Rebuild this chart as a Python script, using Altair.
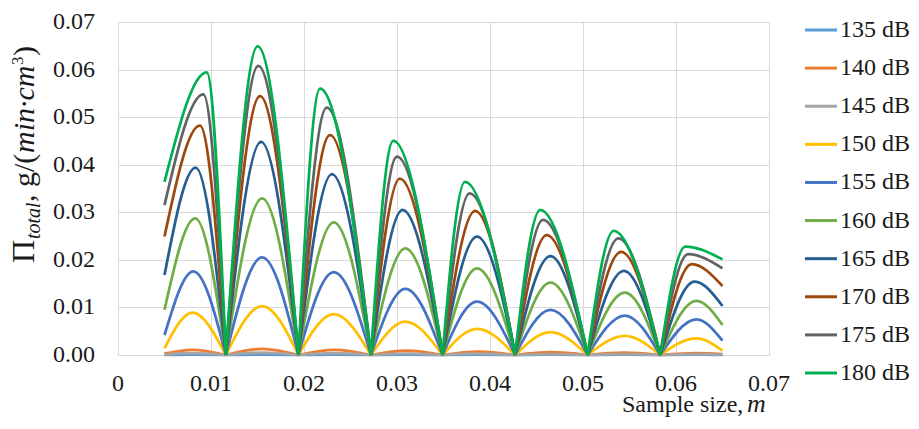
import altair as alt
import pandas as pd

series = ["135 dB", "140 dB", "145 dB", "150 dB", "155 dB",
          "160 dB", "165 dB", "170 dB", "175 dB", "180 dB"]
colors = ["#5B9BD5", "#ED7D31", "#A5A5A5", "#FFC000", "#4472C4",
          "#70AD47", "#255E91", "#9E480E", "#636363", "#00B050"]

x_start = 0.005
x_end = 0.065
# positions where all curves touch zero
zeros = [0.0116, 0.0194, 0.0272, 0.0349, 0.0427, 0.0505, 0.0583]

# value at x_start and at x_end, per series
start_vals = [0.0000, 0.0003, 0.0001, 0.0014, 0.0042, 0.0095, 0.0168, 0.0249, 0.0315, 0.0364]
end_vals = [0.0000, 0.0002, 0.0001, 0.0009, 0.0030, 0.0063, 0.0103, 0.0145, 0.0182, 0.0201]

# x position of each arc's top, per series
peak_x_135 = [0.0080, 0.0155, 0.0233, 0.0310, 0.0388, 0.0466, 0.0544, 0.0622]
peak_x_140 = [0.0080, 0.0155, 0.0233, 0.0310, 0.0388, 0.0466, 0.0544, 0.0622]
peak_x_145 = [0.0080, 0.0155, 0.0233, 0.0310, 0.0388, 0.0466, 0.0544, 0.0622]
peak_x_150 = [0.0080, 0.0155, 0.0232, 0.0309, 0.0386, 0.0465, 0.0545, 0.0622]
peak_x_155 = [0.0081, 0.0155, 0.0232, 0.0309, 0.0386, 0.0465, 0.0545, 0.0622]
peak_x_160 = [0.0083, 0.0155, 0.0232, 0.0309, 0.0386, 0.0465, 0.0545, 0.0622]
peak_x_165 = [0.00835, 0.01538, 0.0230, 0.0306, 0.0386, 0.0465, 0.0544, 0.0620]
peak_x_170 = [0.0088, 0.01527, 0.0228, 0.0303, 0.0384, 0.0461, 0.0541, 0.0617]
peak_x_175 = [0.00917, 0.01509, 0.02244, 0.0300, 0.0378, 0.0457, 0.0538, 0.0613]
peak_x_180 = [0.00954, 0.01502, 0.02172, 0.0296, 0.0373, 0.0454, 0.0533, 0.0610]

# height of each arc's top, per series
peak_y_135 = [0.0001, 0.0001, 0.0001, 0.0001, 0.0001, 0.0001, 0.0001, 0.0001]
peak_y_140 = [0.0011, 0.0013, 0.0011, 0.0009, 0.0007, 0.0006, 0.0005, 0.0004]
peak_y_145 = [0.0004, 0.0005, 0.0004, 0.0003, 0.0003, 0.0002, 0.0002, 0.0002]
peak_y_150 = [0.0089, 0.0103, 0.0086, 0.0070, 0.0055, 0.0048, 0.0040, 0.0035]
peak_y_155 = [0.0176, 0.0205, 0.0174, 0.0139, 0.0112, 0.0095, 0.0083, 0.0075]
peak_y_160 = [0.0287, 0.0329, 0.0279, 0.0224, 0.0182, 0.0152, 0.0131, 0.0114]
peak_y_165 = [0.0394, 0.0448, 0.0380, 0.0305, 0.0249, 0.0208, 0.0177, 0.0154]
peak_y_170 = [0.0482, 0.0544, 0.0462, 0.0371, 0.0303, 0.0252, 0.0217, 0.0191]
peak_y_175 = [0.0548, 0.0608, 0.0520, 0.0417, 0.0340, 0.0284, 0.0245, 0.0212]
peak_y_180 = [0.0594, 0.0649, 0.0560, 0.0450, 0.0364, 0.0305, 0.0261, 0.0228]

peak_x = [peak_x_135, peak_x_140, peak_x_145, peak_x_150, peak_x_155,
          peak_x_160, peak_x_165, peak_x_170, peak_x_175, peak_x_180]
peak_y = [peak_y_135, peak_y_140, peak_y_145, peak_y_150, peak_y_155,
          peak_y_160, peak_y_165, peak_y_170, peak_y_175, peak_y_180]

x_ticks = [0, 0.01, 0.02, 0.03, 0.04, 0.05, 0.06, 0.07]
x_labels = ["0", "0.01", "0.02", "0.03", "0.04", "0.05", "0.06", "0.07"]
y_ticks = [0, 0.01, 0.02, 0.03, 0.04, 0.05, 0.06, 0.07]
y_labels = ["0.00", "0.01", "0.02", "0.03", "0.04", "0.05", "0.06", "0.07"]

rows = []
n_arcs = len(zeros) + 1
for i, s in enumerate(series):
    for k in range(n_arcs):
        left = (x_start, start_vals[i]) if k == 0 else (zeros[k - 1], 0.0)
        right = (zeros[k], 0.0) if k < n_arcs - 1 else (x_end, end_vals[i])
        pts = [left, (peak_x[i][k], peak_y[i][k]), right]
        for o, (xv, yv) in enumerate(pts):
            rows.append({"series": s, "arc": f"{s}-{k}", "o": o, "x": xv, "y": yv})
df = pd.DataFrame(rows)

FONT = "Liberation Serif"
TXT = "#1a1a1a"
GRID = "#D9D9D9"

xscale = alt.Scale(domain=[0, 0.07], nice=False)
yscale = alt.Scale(domain=[0, 0.07], nice=False)
cscale = alt.Scale(domain=series, range=colors)

lines = alt.Chart(df).mark_line(interpolate="monotone", strokeWidth=2.75).encode(
    x=alt.X("x:Q", scale=xscale,
            axis=alt.Axis(values=x_ticks, title=None, grid=True, gridColor=GRID,
                          domainColor=GRID, ticks=False, labels=False)),
    y=alt.Y("y:Q", scale=yscale,
            axis=alt.Axis(values=y_ticks, title=None, grid=True, gridColor=GRID,
                          domainColor=GRID, ticks=False, labels=False)),
    color=alt.Color("series:N", scale=cscale, legend=None),
    detail="arc:N",
    order="o:Q",
)

# tick labels drawn as text through the same scales
x_lab = alt.Chart(pd.DataFrame({"v": x_ticks, "t": x_labels})).mark_text(
    align="center", baseline="alphabetic", font=FONT, fontSize=24,
    fontStyle="normal", fontWeight="normal", color=TXT
).encode(x=alt.X("v:Q", scale=xscale), y=alt.value(369), text="t:N")

y_lab = alt.Chart(pd.DataFrame({"v": y_ticks, "t": y_labels})).mark_text(
    align="right", baseline="middle", font=FONT, fontSize=24,
    fontStyle="normal", fontWeight="normal", color=TXT
).encode(x=alt.value(-23), y=alt.Y("v:Q", scale=yscale, axis=None), text="t:N")

# legend
legend_df = pd.DataFrame({"series": series})
ly = alt.Y("series:N", axis=None,
           scale=alt.Scale(type="point", domain=series, range=[8, 351], padding=0))
leg_rules = alt.Chart(legend_df).mark_rule(strokeWidth=3).encode(
    x=alt.value(687), x2=alt.value(719), y=ly,
    color=alt.Color("series:N", scale=cscale, legend=None))
leg_text = alt.Chart(legend_df).mark_text(
    align="left", baseline="middle", font=FONT, fontSize=24,
    fontStyle="normal", fontWeight="normal", color=TXT
).encode(x=alt.value(722), y=ly, text="series:N")


def piece(txt, x, y, size, angle=0, italic=False):
    return alt.Chart(pd.DataFrame({"t": [txt]})).mark_text(
        align="left", baseline="alphabetic", angle=angle, font=FONT,
        fontSize=size, fontStyle="italic" if italic else "normal", color=TXT
    ).encode(x=alt.value(x), y=alt.value(y), text="t:N")


title_parts = [
    piece("\u03a0", -84, 241, 32, angle=270),
    piece("total", -78, 217, 20, angle=270, italic=True),
    piece(", g/(", -84, 180, 30, angle=270),
    piece("min\u00b7cm", -84, 131, 30, angle=270, italic=True),
    piece("3", -95, 43, 17, angle=270),
    piece(")", -84, 34, 30, angle=270),
    piece("Sample size, ", 504, 390, 24),
    piece("m", 629, 390, 26, italic=True),
]

chart = alt.layer(lines, x_lab, y_lab, leg_rules, leg_text, *title_parts).resolve_scale(
    y="independent"
).properties(
    width=651, height=333,
    padding={"left": 110, "top": 14, "right": 142, "bottom": 62},
    autosize="none",
).configure_view(stroke=GRID)

chart.save("out.html", embed_options={"renderer": "svg", "actions": False})
